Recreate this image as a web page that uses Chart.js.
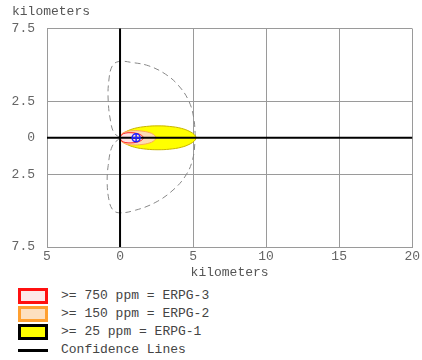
<!DOCTYPE html>
<html>
<head>
<meta charset="utf-8">
<script src="https://cdn.jsdelivr.net/npm/chart.js@4.4.1/dist/chart.umd.min.js"></script>
<style>
body { margin: 0; background: #fff; width: 422px; height: 360px; overflow: hidden; font-family: "Liberation Mono", monospace; }
#wrap { position: relative; width: 422px; height: 280px; }
#legend { position: absolute; left: 0; top: 280px; width: 422px; height: 80px; }
.row { position: absolute; left: 18px; height: 16px; font-size: 13px; color: #444; }
.sw { position: absolute; left: 0; top: 0; width: 24px; height: 10px; border: 3px solid; }
.txt { position: absolute; left: 43px; top: 0; white-space: pre; line-height: 16px; }
</style>
</head>
<body>
<div id="wrap"><canvas id="chart-area" width="422" height="280"></canvas></div>
<div id="legend"></div>
<script>
// axis ticks (km)
var xTicks = [-5, 0, 5, 10, 15, 20];
var yTicks = [-7.5, -2.5, 0, 2.5, 7.5];

// threat zone outlines (km downwind, km crosswind)
var erpg1X = [0, 0.1, 0.4, 1.0, 1.8, 2.6, 3.4, 4.2, 4.8, 5.1, 5.2, 5.1, 4.8, 4.2, 3.4, 2.6, 1.8, 1.0, 0.4, 0.1, 0];
var erpg1Y = [0, 0.2, 0.42, 0.65, 0.78, 0.82, 0.78, 0.65, 0.42, 0.2, 0, -0.2, -0.42, -0.65, -0.78, -0.82, -0.78, -0.65, -0.42, -0.2, 0];
var erpg2X = [0, 0.1, 0.4, 0.9, 1.5, 2.0, 2.3, 2.45, 2.3, 2.0, 1.5, 0.9, 0.4, 0.1, 0];
var erpg2Y = [0, 0.25, 0.42, 0.49, 0.46, 0.36, 0.22, 0, -0.22, -0.36, -0.46, -0.49, -0.42, -0.25, 0];
var erpg3X = [0, 0.1, 0.35, 0.75, 1.15, 1.45, 1.6, 1.45, 1.15, 0.75, 0.35, 0.1, 0];
var erpg3Y = [0, 0.2, 0.32, 0.35, 0.3, 0.18, 0, -0.18, -0.3, -0.35, -0.32, -0.2, 0];

// confidence lines
var confUpX = [0, -0.42, -0.65, -0.81, -0.77, -0.53, -0.08, 0.83, 1.97, 3.11, 4.02, 4.7, 5.04, 5.16];
var confUpY = [0, 0.36, 1.16, 2.53, 3.9, 4.94, 5.24, 5.17, 4.94, 4.37, 3.57, 2.54, 1.39, 0];
var confLoX = [0, -0.53, -0.81, -0.88, -0.77, -0.53, -0.08, 1.06, 2.4, 3.56, 4.47, 4.97, 5.16];
var confLoY = [0, -0.57, -1.9, -3.1, -4.2, -4.9, -5.15, -4.97, -4.45, -3.65, -2.63, -1.49, 0];

// source marker
var sourceX = [1.1];
var sourceY = [0];

var legendLabels = [">= 750 ppm = ERPG-3", ">= 150 ppm = ERPG-2", ">= 25 ppm = ERPG-1", "Confidence Lines"];

var FONT = "'Liberation Mono', monospace";

function pts(xs, ys) {
    var out = [];
    for (var i = 0; i < xs.length; i++) out.push({x: xs[i], y: ys[i]});
    return out;
}

function zone(xs, ys, fillCol, lineCol) {
    return {
        data: pts(xs, ys), showLine: true, fill: 'shape', tension: 0.4,
        backgroundColor: fillCol, borderColor: lineCol, borderWidth: 1, pointRadius: 0
    };
}

function conf(xs, ys) {
    return {
        data: pts(xs, ys), showLine: true, fill: false, tension: 0.4,
        borderColor: '#888', borderWidth: 1, borderDash: [6, 4], pointRadius: 0
    };
}

// black x=0 / y=0 lines drawn over the zones but under the source marker
var zeroLines = {
    id: 'zeroLines',
    afterDatasetDraw: function (chart, args) {
        if (args.index != 2) return;
        var ctx = chart.ctx, a = chart.chartArea;
        var x0 = chart.scales.x.getPixelForValue(0);
        var y0 = chart.scales.y.getPixelForValue(0);
        ctx.save();
        ctx.strokeStyle = '#000';
        ctx.lineWidth = 2;
        ctx.beginPath();
        ctx.moveTo(x0, a.top); ctx.lineTo(x0, a.bottom);
        ctx.moveTo(a.left, y0); ctx.lineTo(a.right, y0);
        ctx.stroke();
        ctx.restore();
    }
};

var tickFont = {family: FONT, size: 13};

var config = {
    type: 'scatter',
    data: {
        datasets: [
            {data: pts(sourceX, sourceY), pointStyle: 'circle', pointRadius: 4, borderColor: '#2020ff', backgroundColor: 'rgba(0,0,0,0)', borderWidth: 1.5},
            {data: pts(sourceX, sourceY), pointStyle: 'cross', pointRadius: 4, borderColor: '#2020ff', borderWidth: 1.5},
            zone(erpg3X, erpg3Y, '#ffe4e4', '#ff2020'),
            zone(erpg2X, erpg2Y, '#fbdcb6', '#ffa850'),
            zone(erpg1X, erpg1Y, '#ffff00', '#c8b400'),
            conf(confUpX, confUpY),
            conf(confLoX, confLoY)
        ]
    },
    options: {
        responsive: false,
        animation: false,
        layout: {padding: {left: 12, right: 9, top: 0, bottom: 0}},
        plugins: {
            legend: {display: false},
            tooltip: {enabled: false},
            title: {
                display: true, text: 'kilometers', align: 'start', color: '#555',
                font: {family: FONT, size: 13, weight: 'normal'},
                padding: {top: 4, bottom: 9}
            }
        },
        scales: {
            x: {
                type: 'linear', min: -5, max: 20,
                afterBuildTicks: function (s) { s.ticks = xTicks.map(function (v) { return {value: v}; }); },
                afterFit: function (s) { s.height = 33; },
                ticks: {color: '#666', font: tickFont, padding: 2, maxRotation: 0,
                    callback: function (v) { return Math.abs(v); }},
                grid: {color: '#9a9a9a', drawTicks: false},
                border: {color: '#9a9a9a'},
                title: {display: true, text: 'kilometers', color: '#555', font: tickFont, padding: {top: 0, bottom: 0}}
            },
            y: {
                type: 'linear', min: -7.5, max: 7.5,
                afterBuildTicks: function (s) { s.ticks = yTicks.map(function (v) { return {value: v}; }); },
                afterFit: function (s) { s.width = 35; },
                ticks: {color: '#666', font: tickFont, padding: 12,
                    callback: function (v) { return Math.abs(v); }},
                grid: {color: '#9a9a9a', drawTicks: false},
                border: {color: '#9a9a9a'}
            }
        }
    },
    plugins: [zeroLines]
};

function CreateLegend() {
    var swatches = [
        {border: '#ff1010', fill: '#fde8e8'},
        {border: '#ffa030', fill: '#fde0c0'},
        {border: '#000', fill: '#ffff00'},
        null
    ];
    var tops = [8, 26, 44, 62];
    var box = document.getElementById('legend');
    for (var i = 0; i < legendLabels.length; i++) {
        var row = document.createElement('div');
        row.className = 'row';
        row.style.top = tops[i] + 'px';
        var sw = document.createElement('div');
        if (swatches[i]) {
            sw.className = 'sw';
            sw.style.borderColor = swatches[i].border;
            sw.style.background = swatches[i].fill;
        } else {
            sw.style.cssText = 'position:absolute;left:0;top:7px;width:30px;height:3px;background:#000';
        }
        row.appendChild(sw);
        var t = document.createElement('div');
        t.className = 'txt';
        t.textContent = legendLabels[i];
        row.appendChild(t);
        box.appendChild(row);
    }
}

var ctx = document.getElementById('chart-area').getContext('2d');
window.myChart = new Chart(ctx, config);
CreateLegend();
</script>
</body>
</html>
